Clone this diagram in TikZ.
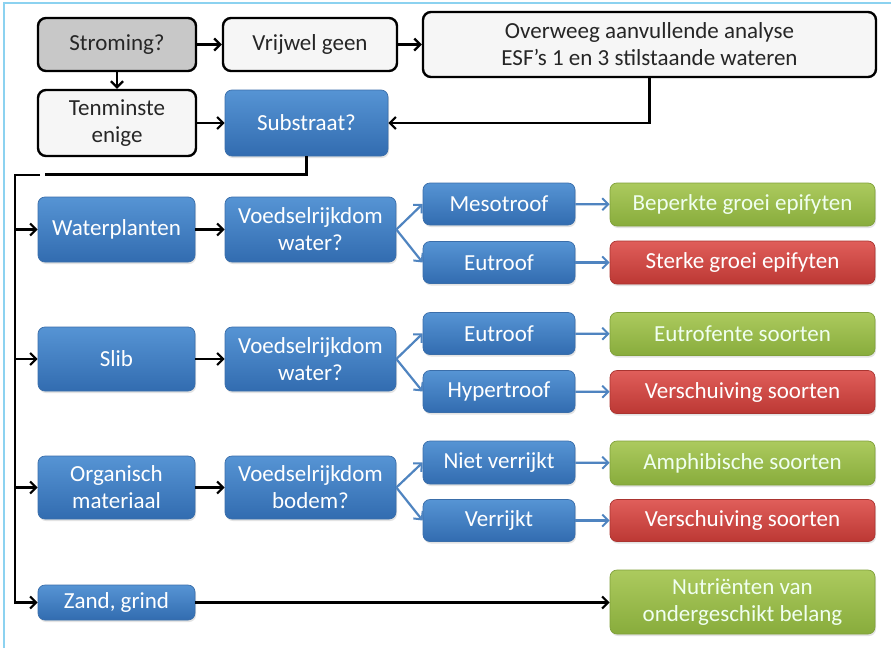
\documentclass[tikz,border=0pt]{standalone}
\usepackage{fontspec}
\setmainfont{Carlito}
\usetikzlibrary{arrows.meta,shadows}

\definecolor{frameblue}{RGB}{140,210,240}
\definecolor{bluetop}{RGB}{86,148,212}
\definecolor{bluebot}{RGB}{50,108,176}
\definecolor{blueedge}{RGB}{58,110,170}
\definecolor{greentop}{RGB}{172,202,94}
\definecolor{greenbot}{RGB}{136,172,60}
\definecolor{greenedge}{RGB}{128,160,58}
\definecolor{redtop}{RGB}{224,94,90}
\definecolor{redbot}{RGB}{188,56,52}
\definecolor{rededge}{RGB}{170,52,48}
\definecolor{lightfill}{RGB}{246,246,246}
\definecolor{grayfill}{RGB}{200,200,200}
\definecolor{linkblue}{RGB}{79,132,192}

\tikzset{
  x=1pt, y=-1pt,
  boxtext/.style={font=\fontsize{23}{27}\selectfont, align=center, inner sep=0pt},
  plainbox/.style={boxtext, rounded corners=8pt, draw=black, line width=2.4pt, fill=lightfill, text=black!85},
  graybox/.style={plainbox, fill=grayfill},
  bluebox/.style={boxtext, rounded corners=7pt, draw=blueedge, line width=0.7pt,
    top color=bluetop, bottom color=bluebot, text=white,
    drop shadow={opacity=0.22, shadow xshift=1pt, shadow yshift=-2pt}},
  greenbox/.style={bluebox, draw=greenedge, top color=greentop, bottom color=greenbot, text=white!94!green},
  redbox/.style={bluebox, draw=rededge, top color=redtop, bottom color=redbot},
  flow/.style={line width=2.4pt, draw=black, -{Straight Barb[length=6pt,width=12pt,line width=2.2pt]}},
  plainline/.style={line width=2.4pt, draw=black},
  bluelink/.style={line width=2.2pt, draw=linkblue, -{Straight Barb[length=6pt,width=12pt,line width=2pt]}},
}

\begin{document}
\begin{tikzpicture}
  \useasboundingbox (0,0) rectangle (891,648);
  \fill[white] (0,0) rectangle (891,648);
  % outer frame (top and left edges)
  \draw[frameblue, line width=2pt] (4,648) -- (4,3) -- (891,3);

  % top block
  \node[graybox, minimum width=158pt, minimum height=53pt] (stroming) at (117,44.5) {Stroming?};
  \node[plainbox, minimum width=174pt, minimum height=53pt] (vrijwel) at (310,44.5) {Vrijwel geen};
  \node[plainbox, minimum width=453pt, minimum height=65pt] (overweeg) at (649.5,44.5)
    {Overweeg aanvullende analyse\\ESF’s 1 en 3 stilstaande wateren};
  \node[plainbox, minimum width=158pt, minimum height=66pt] (tenminste) at (117,123) {Tenminste\\enige};
  \node[bluebox, minimum width=163pt, minimum height=66pt] (substraat) at (306.5,123) {Substraat?};

  % substrate rows
  \node[bluebox, minimum width=157pt, minimum height=65pt] (water) at (116.5,229.5) {Waterplanten};
  \node[bluebox, minimum width=171pt, minimum height=65pt] (vwA) at (310.5,229.5) {Voedselrijkdom\\water?};
  \node[bluebox, minimum width=152pt, minimum height=42pt] (meso) at (499,204) {Mesotroof};
  \node[bluebox, minimum width=152pt, minimum height=42pt] (euA) at (499,262.5) {Eutroof};
  \node[greenbox, minimum width=265pt, minimum height=43pt] (beperkt) at (742.5,204.5) {Beperkte groei epifyten};
  \node[redbox, minimum width=265pt, minimum height=43pt] (sterk) at (742.5,262.5) {Sterke groei epifyten};

  \node[bluebox, minimum width=157pt, minimum height=64pt] (slib) at (116.5,359) {Slib};
  \node[bluebox, minimum width=171pt, minimum height=64pt] (vwB) at (310.5,359) {Voedselrijkdom\\water?};
  \node[bluebox, minimum width=152pt, minimum height=42pt] (euB) at (499,333.5) {Eutroof};
  \node[bluebox, minimum width=152pt, minimum height=42pt] (hyper) at (499,391.5) {Hypertroof};
  \node[greenbox, minimum width=265pt, minimum height=43pt] (eutrofent) at (742.5,334) {Eutrofente soorten};
  \node[redbox, minimum width=265pt, minimum height=43pt] (verschB) at (742.5,392) {Verschuiving soorten};

  \node[bluebox, minimum width=157pt, minimum height=63pt] (organ) at (116.5,487.5) {Organisch\\materiaal};
  \node[bluebox, minimum width=171pt, minimum height=63pt] (vwC) at (310.5,487.5) {Voedselrijkdom\\bodem?};
  \node[bluebox, minimum width=152pt, minimum height=43pt] (niet) at (499,462.5) {Niet verrijkt};
  \node[bluebox, minimum width=152pt, minimum height=42pt] (verr) at (499,520.5) {Verrijkt};
  \node[greenbox, minimum width=265pt, minimum height=44pt] (amphi) at (742.5,463) {Amphibische soorten};
  \node[redbox, minimum width=265pt, minimum height=42pt] (verschC) at (742.5,520.5) {Verschuiving soorten};

  \node[bluebox, minimum width=157pt, minimum height=35pt] (zand) at (116.5,602.5) {Zand, grind};
  \node[greenbox, minimum width=265pt, minimum height=64pt] (nutri) at (742.5,602) {Nutriënten van\\ondergeschikt belang};

  % connectors of the top block
  \draw[flow] (stroming) -- (vrijwel);
  \draw[flow] (vrijwel) -- (overweeg.west |- vrijwel);
  \draw[flow] (stroming) -- (tenminste);
  \draw[flow] (tenminste) -- (substraat);
  \draw[flow] (overweeg.south) |- (substraat.east);

  % trunk from the substrate question to the rows
  \coordinate (gapR) at (45,174.5);
  \coordinate (gapL) at (40,175);
  \coordinate (trunk) at (15,175);
  \draw[plainline] (substraat.south) |- (gapR);
  \draw[flow] (gapL) -- (trunk) |- (zand.west);
  \draw[flow] (trunk |- water.west) -- (water.west);
  \draw[flow] (trunk |- slib.west) -- (slib.west);
  \draw[flow] (trunk |- organ.west) -- (organ.west);

  % row connectors
  \draw[flow] (water) -- (vwA);
  \draw[flow] (slib) -- (vwB);
  \draw[flow] (organ) -- (vwC);
  \draw[flow] (zand.east) -- (zand.east -| nutri.west);

  \draw[bluelink] (vwA.east) -- (meso.west);
  \draw[bluelink] (vwA.east) -- (euA.west);
  \draw[bluelink] (meso) -- (beperkt);
  \draw[bluelink] (euA) -- (sterk);

  \draw[bluelink] (vwB.east) -- (euB.west);
  \draw[bluelink] (vwB.east) -- (hyper.west);
  \draw[bluelink] (euB) -- (eutrofent);
  \draw[bluelink] (hyper) -- (verschB);

  \draw[bluelink] (vwC.east) -- (niet.west);
  \draw[bluelink] (vwC.east) -- (verr.west);
  \draw[bluelink] (niet) -- (amphi);
  \draw[bluelink] (verr) -- (verschC);
\end{tikzpicture}
\end{document}
